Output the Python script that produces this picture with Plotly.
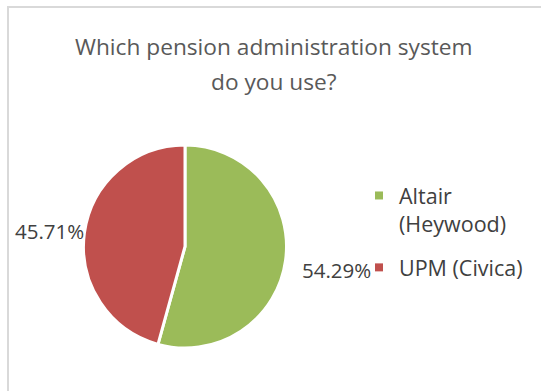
import plotly.graph_objects as go

# Survey answers: share of respondents per administration system
systems = ["Altair<br>(Heywood)", "UPM (Civica)"]
shares = [54.29, 45.71]
colors = ["#9BBB59", "#C0504D"]

title_lines = ["Which pension administration system", "do you use?"]

W, H = 541, 391
FONT = "'Open Sans', Lato, sans-serif"


def px(x):
    return x / W


def py(y):
    return (H - y) / H


fig = go.Figure(
    go.Pie(
        labels=systems,
        values=shares,
        sort=False,
        direction="clockwise",
        rotation=0,
        marker=dict(colors=colors, line=dict(color="white", width=3)),
        textinfo="none",
        domain=dict(x=[px(83), px(287)], y=[py(348), py(145)]),
        hoverinfo="label+percent",
        showlegend=False,
    )
)

# legend keys: small square swatches, one group per system so the gap can be set
for i, (name, col) in enumerate(zip(systems, colors)):
    fig.add_trace(
        go.Scatter(
            x=[None],
            y=[None],
            mode="markers",
            name=name,
            legendgroup=f"g{i}",
            marker=dict(symbol="square", size=8, color=col),
            hoverinfo="skip",
        )
    )

# value labels placed beside their slices
label_pos = [(336, 270), (49, 231)]
annotations = [
    dict(
        text=f"{v:.2f}%",
        x=px(xp),
        y=py(yp),
        xref="paper",
        yref="paper",
        xanchor="center",
        yanchor="middle",
        showarrow=False,
        font=dict(family=FONT, size=20.5, color="#404040"),
    )
    for v, (xp, yp) in zip(shares, label_pos)
]
# two-line chart title
for line, yp in zip(title_lines, [47, 81]):
    annotations.append(
        dict(
            text=line,
            x=px(274),
            y=py(yp),
            xref="paper",
            yref="paper",
            xanchor="center",
            yanchor="middle",
            showarrow=False,
            font=dict(family=FONT, size=22.7, color="#595959"),
        )
    )

fig.update_layout(
    width=W,
    height=H,
    margin=dict(l=0, r=0, t=0, b=0),
    paper_bgcolor="white",
    plot_bgcolor="white",
    xaxis=dict(visible=False),
    yaxis=dict(visible=False),
    showlegend=True,
    legend=dict(
        x=px(359),
        y=py(175),
        xanchor="left",
        yanchor="top",
        valign="top",
        font=dict(family=FONT, size=21.5, color="#404040"),
        itemwidth=30,
        tracegroupgap=13,
    ),
    annotations=annotations,
    shapes=[
        # chart frame, running past the right and bottom edges
        dict(
            type="rect",
            xref="paper",
            yref="paper",
            x0=px(8),
            x1=1.05,
            y0=-0.05,
            y1=py(7),
            line=dict(color="#D9D9D9", width=2),
            fillcolor="rgba(0,0,0,0)",
        )
    ],
)

fig.write_html("out.html")
